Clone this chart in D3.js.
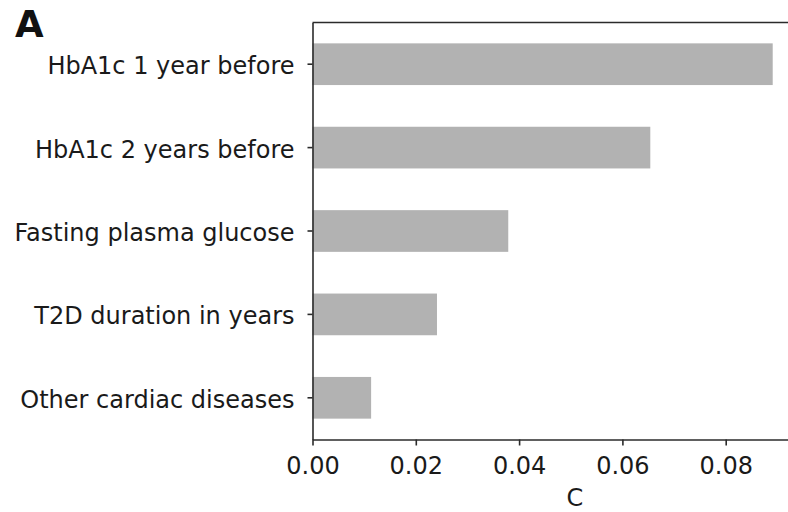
<!DOCTYPE html>
<html>
<head>
<meta charset="utf-8">
<script src="https://cdn.jsdelivr.net/npm/d3@7"></script>
<style>
  html, body { margin: 0; padding: 0; background: #fff; }
  svg { display: block; font-family: "DejaVu Sans", sans-serif; }
</style>
</head>
<body>
<svg id="chart" width="788" height="512"></svg>
<script>
// Feature importance values (C), top to bottom
const features = [
  "HbA1c 1 year before",
  "HbA1c 2 years before",
  "Fasting plasma glucose",
  "T2D duration in years",
  "Other cardiac diseases"
];
const importance = [0.0891, 0.0654, 0.0379, 0.0241, 0.01135];
const xTicks = [0, 0.02, 0.04, 0.06, 0.08];
const xLabel = "C";
const panelLabel = "A";

const svg = d3.select("#chart");
const plotLeft = 312.5, plotTop = 22.5, plotBottom = 439.5;
const xMax = 0.0935;
const fontSize = "24px";

const x = d3.scaleLinear().domain([0, xMax]).range([plotLeft, plotLeft + 5165 * xMax]);
const y = d3.scaleBand().domain(features).range([plotTop, plotBottom])
  .paddingInner(0.5).paddingOuter(0.25);

const ink = "#1a1a1a";
const spine = "#2b2b2b";

// bars
svg.append("g").selectAll("rect").data(features).join("rect")
  .attr("x", x(0))
  .attr("y", d => y(d))
  .attr("width", (d, i) => x(importance[i]) - x(0))
  .attr("height", y.bandwidth())
  .attr("fill", "#b2b2b2");

// x axis
const xAxis = svg.append("g")
  .attr("transform", `translate(0,${plotBottom})`)
  .call(d3.axisBottom(x).tickValues(xTicks).tickFormat(d3.format(".2f"))
    .tickSize(6).tickPadding(11).tickSizeOuter(0));
xAxis.select(".domain").attr("stroke", spine).attr("stroke-width", 1.6);
xAxis.selectAll(".tick line").attr("stroke", spine).attr("stroke-width", 1.6);
xAxis.selectAll(".tick text").attr("fill", ink)
  .style("font-size", fontSize).style("font-family", "DejaVu Sans");

// y axis
const yAxis = svg.append("g")
  .attr("transform", `translate(${plotLeft},0)`)
  .call(d3.axisLeft(y).tickSize(5).tickPadding(13).tickSizeOuter(0));
yAxis.select(".domain").attr("stroke", spine).attr("stroke-width", 1.6);
yAxis.selectAll(".tick line").attr("stroke", spine).attr("stroke-width", 1.6);
yAxis.selectAll(".tick text").attr("fill", ink).attr("dy", "0.42em")
  .style("font-size", fontSize).style("font-family", "DejaVu Sans");

// top spine
svg.append("line")
  .attr("x1", plotLeft).attr("x2", x(xMax))
  .attr("y1", plotTop).attr("y2", plotTop)
  .attr("stroke", spine).attr("stroke-width", 1.6);

// axis title
svg.append("text")
  .attr("x", 575).attr("y", 505.5)
  .attr("text-anchor", "middle")
  .attr("fill", ink)
  .style("font-size", fontSize)
  .text(xLabel);

// panel label
svg.append("text")
  .attr("x", 15).attr("y", 37)
  .attr("fill", "#111")
  .style("font-size", "37px")
  .style("font-weight", "bold")
  .text(panelLabel);
</script>
</body>
</html>
